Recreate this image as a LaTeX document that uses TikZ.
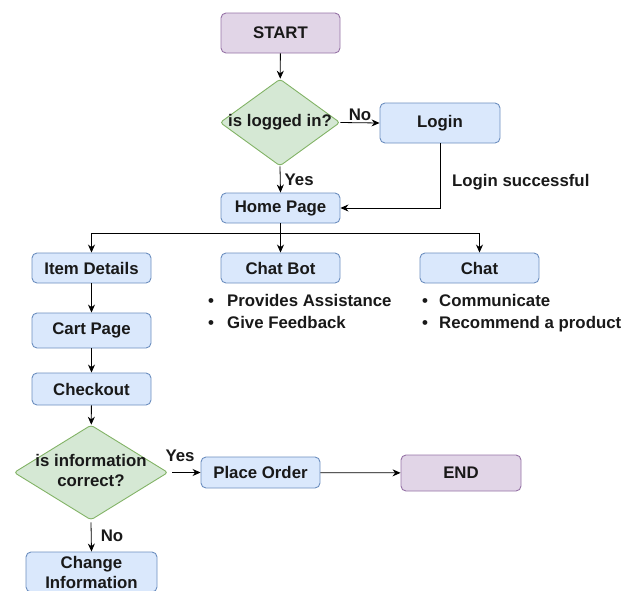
\documentclass[tikz,border=0pt]{standalone}
\usepackage{fontspec}
\setmainfont{Liberation Sans}
\usetikzlibrary{shapes.geometric,arrows.meta}
\definecolor{pfill}{HTML}{E1D5E7}
\definecolor{pdraw}{HTML}{9673A6}
\definecolor{bfill}{HTML}{DAE8FC}
\definecolor{bdraw}{HTML}{6C8EBF}
\definecolor{gfill}{HTML}{D5E8D4}
\definecolor{gdraw}{HTML}{82B366}
\newcommand{\dlabel}[1]{\makebox[0pt]{\begin{tabular}{@{}c@{}}#1\end{tabular}}}
\newcommand{\bul}[1]{\makebox[#1][l]{\textbullet}}

\begin{document}
\begin{tikzpicture}[x=1pt, y=-1pt,
    every node/.style={font=\bfseries\fontsize{16.8}{20}\selectfont, text=black!90},
    terminal/.style={draw=pdraw, fill=pfill, rounded corners=5pt, line width=0.9pt, minimum width=119pt, minimum height=#1},
    process/.style={draw=bdraw, fill=bfill, rounded corners=5pt, line width=0.9pt, minimum width=119pt, minimum height=#1, inner sep=0pt},
    decision/.style={diamond, draw=gdraw, fill=gfill, rounded corners=3pt, line width=0.9pt, inner sep=0pt},
    link/.style={-{Stealth[length=8pt,width=7pt]}, line width=0.8pt},
    notes/.style={anchor=north west, align=left, inner sep=0pt, font=\bfseries\fontsize{16.8}{22}\selectfont},
    tag/.style={inner sep=1pt}]
    \useasboundingbox (0,0) rectangle (635,590);
    \clip (0,0) rectangle (635,590);
    \node[terminal=40pt] (start) at (280.5,33) {START};
    \node[decision, minimum width=120pt, minimum height=87pt] (logged) at (280,122.5) {\dlabel{is logged in?}};
    \node[process=40pt, minimum width=120pt] (login) at (440,123) {Login};
    \node[process=30pt] (home) at (280.5,208) {Home Page};
    \node[process=30pt] (item) at (91.5,268) {Item Details};
    \node[process=30pt] (chatbot) at (280.5,268) {Chat Bot};
    \node[process=30pt] (chat) at (479.5,268) {Chat};
    \node[process=35pt] (cart) at (91.5,330.5) {Cart Page};
    \node[process=32pt] (checkout) at (91.5,389) {Checkout};
    \node[decision, minimum width=154pt, minimum height=95pt] (correct) at (91,472.5) {\dlabel{is information\\correct?}};
    \node[process=31pt] (place) at (260.5,472.5) {Place Order};
    \node[terminal=36pt, minimum width=120pt] (end) at (461,473) {END};
    \node[process=40pt, minimum width=131pt, align=center, font=\bfseries\fontsize{16.8}{20}\selectfont] (change) at (91.5,572) {Change\\Information};
    \node[notes] (botlist) at (208,294) {\bul{19pt}Provides Assistance\\\bul{19pt}Give Feedback};
    \node[notes] (chatlist) at (422,294) {\bul{17pt}Communicate\\\bul{17pt}Recommend a product};

    \draw[link] (start) -- (logged);
    \draw[link] (logged.east) -- (login.west) node[tag, pos=0.5, above=1pt] (no1) {No};
    \draw[link] (logged.south) -- (home.north) node[tag, pos=0.5, right=3pt] (yes1) {Yes};
    \draw[link] (login.south) |- (home.east);
    \node[tag, anchor=west] (ok) at (451,182) {Login successful};
    \draw[link] (home.south) -- ++(0,10) -| (item.north);
    \draw[link] (home.south) -- (chatbot.north);
    \draw[link] (home.south) -- ++(0,10) -| (chat.north);
    \draw[link] (item) -- (cart);
    \draw[link] (cart) -- (checkout);
    \draw[link] (checkout) -- (correct);
    \draw[link] (correct.east) ++(4,0) -- (place.west);
    \node[tag] (yes2) at (180,456) {Yes};
    \draw[link] (correct.south) ++(0,2) -- (change.north);
    \node[tag] (no2) at (112,536) {No};
    \draw[link] (place) -- (end);
\end{tikzpicture}
\end{document}
